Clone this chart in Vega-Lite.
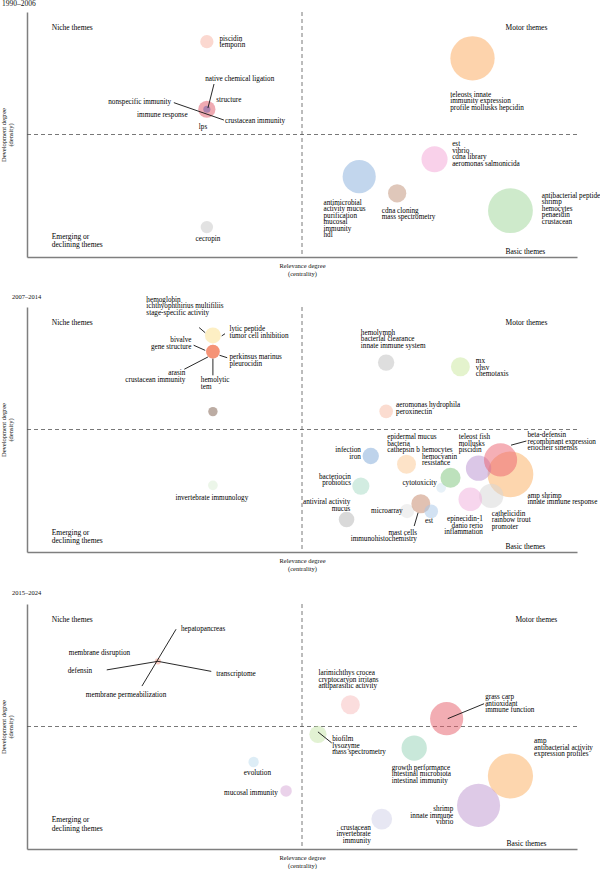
{
  "$schema": "https://vega.github.io/schema/vega-lite/v6.json",
  "padding": 0,
  "spacing": 17,
  "config": {
    "view": {"stroke": null},
    "font": "Liberation Serif",
    "axis": {"domainColor": "#7f7f7f", "domainWidth": 1.5, "ticks": false, "labels": false, "grid": false, "titleFont": "Liberation Serif", "titleFontSize": 6.5, "titleFontWeight": "normal", "titleColor": "#111"},
    "axisX": {"titleLineHeight": 8, "titlePadding": 5},
    "axisY": {"titleLineHeight": 7, "titlePadding": 14},
    "title": {"anchor": "start", "frame": "bounds", "font": "Liberation Serif", "fontSize": 6.5, "fontWeight": "normal", "color": "#111", "offset": 4}
  },
  "resolve": {"scale": {"color": "independent"}},
  "datasets": {
    "bubbles": [
      {"panel": 1, "theme": "teleosts innate", "x": 81.0, "y": 81.1, "freq": 625},
      {"panel": 1, "theme": "antimicrobial", "x": 60.4, "y": 32.8, "freq": 350},
      {"panel": 1, "theme": "cdna cloning", "x": 67.3, "y": 26.0, "freq": 106},
      {"panel": 1, "theme": "est", "x": 74.1, "y": 39.9, "freq": 216},
      {"panel": 1, "theme": "antibacterial peptide", "x": 87.9, "y": 18.9, "freq": 640},
      {"panel": 1, "theme": "piscidin", "x": 32.7, "y": 87.9, "freq": 56},
      {"panel": 1, "theme": "structure", "x": 32.7, "y": 60.3, "freq": 94},
      {"panel": 1, "theme": "lps", "x": 32.7, "y": 60.3, "freq": 16},
      {"panel": 1, "theme": "cecropin", "x": 32.7, "y": 12.2, "freq": 49},
      {"panel": 2, "theme": "hemoglobin", "x": 33.8, "y": 88.4, "freq": 81},
      {"panel": 2, "theme": "perkinsus marinus", "x": 33.8, "y": 81.8, "freq": 59},
      {"panel": 2, "theme": "arasin", "x": 33.8, "y": 81.8, "freq": 59},
      {"panel": 2, "theme": "hemolytic", "x": 33.8, "y": 57.3, "freq": 28},
      {"panel": 2, "theme": "invertebrate immunology", "x": 33.8, "y": 27.2, "freq": 30},
      {"panel": 2, "theme": "hemolymph", "x": 65.3, "y": 77.3, "freq": 85},
      {"panel": 2, "theme": "mx", "x": 78.8, "y": 75.6, "freq": 114},
      {"panel": 2, "theme": "aeromonas hydrophila", "x": 65.3, "y": 57.4, "freq": 59},
      {"panel": 2, "theme": "infection", "x": 62.5, "y": 39.2, "freq": 85},
      {"panel": 2, "theme": "epidermal mucus", "x": 69.0, "y": 35.8, "freq": 114},
      {"panel": 2, "theme": "bacteriocin", "x": 60.7, "y": 26.9, "freq": 94},
      {"panel": 2, "theme": "antiviral activity", "x": 58.1, "y": 13.3, "freq": 77},
      {"panel": 2, "theme": "microarray", "x": 69.1, "y": 16.7, "freq": 64},
      {"panel": 2, "theme": "mast cells", "x": 71.6, "y": 19.7, "freq": 114},
      {"panel": 2, "theme": "est", "x": 73.5, "y": 16.6, "freq": 59},
      {"panel": 2, "theme": "cytotoxicity", "x": 75.3, "y": 26.2, "freq": 30},
      {"panel": 2, "theme": "hemocytes", "x": 77.0, "y": 30.3, "freq": 128},
      {"panel": 2, "theme": "amp shrimp", "x": 87.9, "y": 31.7, "freq": 666},
      {"panel": 2, "theme": "teleost fish", "x": 82.1, "y": 34.2, "freq": 204},
      {"panel": 2, "theme": "beta-defensin", "x": 86.1, "y": 37.6, "freq": 350},
      {"panel": 2, "theme": "cathelicidin", "x": 84.4, "y": 22.9, "freq": 188},
      {"panel": 2, "theme": "epinecidin-1", "x": 80.6, "y": 21.5, "freq": 177},
      {"panel": 3, "theme": "hepatopancreas", "x": 23.8, "y": 76.6, "freq": 12},
      {"panel": 3, "theme": "evolution", "x": 41.2, "y": 35.5, "freq": 34},
      {"panel": 3, "theme": "mucosal immunity", "x": 47.1, "y": 23.7, "freq": 42},
      {"panel": 3, "theme": "larimichthys crocea", "x": 58.8, "y": 58.9, "freq": 114},
      {"panel": 3, "theme": "biofilm", "x": 52.9, "y": 46.8, "freq": 94},
      {"panel": 3, "theme": "growth performance", "x": 70.4, "y": 41.2, "freq": 204},
      {"panel": 3, "theme": "grass carp", "x": 76.3, "y": 53.2, "freq": 350},
      {"panel": 3, "theme": "crustacean", "x": 64.5, "y": 12.2, "freq": 137},
      {"panel": 3, "theme": "amp", "x": 87.9, "y": 29.8, "freq": 650},
      {"panel": 3, "theme": "shrimp", "x": 82.1, "y": 17.8, "freq": 590}
    ],
    "labels": [
      {"panel": 1, "kind": "theme", "side": "left", "x": 76.96, "y": 66.2, "text": "teleosts innate\nimmunity expression\nprofile mollusks hepcidin"},
      {"panel": 1, "kind": "theme", "side": "left", "x": 77.3, "y": 46.0, "text": "est\nvibrio\ncdna library\naeromonas salmonicida"},
      {"panel": 1, "kind": "theme", "side": "left", "x": 53.9, "y": 22.2, "text": "antimicrobial\nactivity mucus\npurification\nmucosal\nimmunity\nhdl"},
      {"panel": 1, "kind": "theme", "side": "left", "x": 64.5, "y": 18.9, "text": "cdna cloning\nmass spectrometry"},
      {"panel": 1, "kind": "theme", "side": "left", "x": 93.6, "y": 24.9, "text": "antibacterial peptide\nshrimp\nhemocytes\npenaeidin\ncrustacean"},
      {"panel": 1, "kind": "theme", "side": "left", "x": 35.0, "y": 89.1, "text": "piscidin\ntemporin"},
      {"panel": 1, "kind": "theme", "side": "left", "x": 32.4, "y": 72.8, "text": "native chemical ligation"},
      {"panel": 1, "kind": "theme", "side": "left", "x": 34.4, "y": 64.2, "text": "structure"},
      {"panel": 1, "kind": "theme", "side": "right", "x": 26.2, "y": 63.1, "text": "nonspecific immunity"},
      {"panel": 1, "kind": "theme", "side": "right", "x": 29.2, "y": 57.8, "text": "immune response"},
      {"panel": 1, "kind": "theme", "side": "left", "x": 36.0, "y": 55.6, "text": "crustacean immunity"},
      {"panel": 1, "kind": "theme", "side": "center", "x": 32.0, "y": 52.9, "text": "lps"},
      {"panel": 1, "kind": "theme", "side": "center", "x": 32.9, "y": 7.5, "text": "cecropin"},
      {"panel": 1, "kind": "quadrant", "side": "left", "x": 4.5, "y": 93.6, "text": "Niche themes"},
      {"panel": 1, "kind": "quadrant", "side": "left", "x": 87.0, "y": 93.6, "text": "Motor themes"},
      {"panel": 1, "kind": "quadrant", "side": "left", "x": 4.5, "y": 8.2, "text": "Emerging or\ndeclining themes"},
      {"panel": 1, "kind": "quadrant", "side": "left", "x": 87.0, "y": 2.2, "text": "Basic themes"},
      {"panel": 2, "kind": "theme", "side": "left", "x": 21.7, "y": 102.9, "text": "hemoglobin\nichthyophthirius multifiliis\nstage-specific activity"},
      {"panel": 2, "kind": "theme", "side": "left", "x": 36.8, "y": 90.9, "text": "lytic peptide\ntumor cell inhibition"},
      {"panel": 2, "kind": "theme", "side": "right", "x": 29.9, "y": 86.5, "text": "bivalve\ngene structure"},
      {"panel": 2, "kind": "theme", "side": "left", "x": 36.8, "y": 79.5, "text": "perkinsus marinus\npleurocidin"},
      {"panel": 2, "kind": "theme", "side": "right", "x": 28.8, "y": 72.9, "text": "arasin\ncrustacean immunity"},
      {"panel": 2, "kind": "theme", "side": "left", "x": 31.6, "y": 70.2, "text": "hemolytic\ntem"},
      {"panel": 2, "kind": "theme", "side": "center", "x": 33.6, "y": 22.0, "text": "invertebrate immunology"},
      {"panel": 2, "kind": "theme", "side": "left", "x": 60.7, "y": 89.5, "text": "hemolymph\nbacterial clearance\ninnate immune system"},
      {"panel": 2, "kind": "theme", "side": "left", "x": 81.6, "y": 77.8, "text": "mx\nvhsv\nchemotaxis"},
      {"panel": 2, "kind": "theme", "side": "left", "x": 67.1, "y": 59.9, "text": "aeromonas hydrophila\nperoxinectin"},
      {"panel": 2, "kind": "theme", "side": "right", "x": 60.7, "y": 41.6, "text": "infection\niron"},
      {"panel": 2, "kind": "theme", "side": "left", "x": 65.5, "y": 46.9, "text": "epidermal mucus\nbacteria\ncathepsin b"},
      {"panel": 2, "kind": "theme", "side": "left", "x": 71.8, "y": 41.6, "text": "hemocytes\nhemocyanin\nresistance"},
      {"panel": 2, "kind": "theme", "side": "right", "x": 74.5, "y": 28.3, "text": "cytotoxicity"},
      {"panel": 2, "kind": "theme", "side": "right", "x": 58.9, "y": 30.7, "text": "bacteriocin\nprobiotics"},
      {"panel": 2, "kind": "theme", "side": "right", "x": 58.8, "y": 20.4, "text": "antiviral activity\nmucus"},
      {"panel": 2, "kind": "theme", "side": "right", "x": 68.3, "y": 16.9, "text": "microarray"},
      {"panel": 2, "kind": "theme", "side": "center", "x": 73.1, "y": 12.7, "text": "est"},
      {"panel": 2, "kind": "theme", "side": "right", "x": 70.9, "y": 7.9, "text": "mast cells\nimmunohistochemistry"},
      {"panel": 2, "kind": "theme", "side": "right", "x": 82.9, "y": 13.3, "text": "epinecidin-1\ndanio rerio\ninflammation"},
      {"panel": 2, "kind": "theme", "side": "left", "x": 78.5, "y": 46.9, "text": "teleost fish\nmollusks\npiscidin"},
      {"panel": 2, "kind": "theme", "side": "left", "x": 91.0, "y": 47.6, "text": "beta-defensin\nrecombinant expression\neriocheir sinensis"},
      {"panel": 2, "kind": "theme", "side": "left", "x": 91.0, "y": 22.9, "text": "amp shrimp\ninnate immune response"},
      {"panel": 2, "kind": "theme", "side": "left", "x": 84.5, "y": 15.6, "text": "cathelicidin\nrainbow trout\npromoter"},
      {"panel": 2, "kind": "quadrant", "side": "left", "x": 4.5, "y": 93.5, "text": "Niche themes"},
      {"panel": 2, "kind": "quadrant", "side": "left", "x": 87.0, "y": 93.5, "text": "Motor themes"},
      {"panel": 2, "kind": "quadrant", "side": "left", "x": 4.5, "y": 7.9, "text": "Emerging or\ndeclining themes"},
      {"panel": 2, "kind": "quadrant", "side": "left", "x": 87.0, "y": 2.0, "text": "Basic themes"},
      {"panel": 3, "kind": "theme", "side": "left", "x": 28.0, "y": 89.7, "text": "hepatopancreas"},
      {"panel": 3, "kind": "theme", "side": "left", "x": 7.6, "y": 79.9, "text": "membrane disruption"},
      {"panel": 3, "kind": "theme", "side": "left", "x": 7.4, "y": 72.5, "text": "defensin"},
      {"panel": 3, "kind": "theme", "side": "left", "x": 34.4, "y": 71.4, "text": "transcriptome"},
      {"panel": 3, "kind": "theme", "side": "left", "x": 10.7, "y": 63.0, "text": "membrane permeabilization"},
      {"panel": 3, "kind": "theme", "side": "center", "x": 41.9, "y": 30.9, "text": "evolution"},
      {"panel": 3, "kind": "theme", "side": "right", "x": 45.6, "y": 23.0, "text": "mucosal immunity"},
      {"panel": 3, "kind": "theme", "side": "left", "x": 53.0, "y": 71.8, "text": "larimichthys crocea\ncryptocaryon irritans\nantiparasitic activity"},
      {"panel": 3, "kind": "theme", "side": "left", "x": 83.3, "y": 62.0, "text": "grass carp\nantioxidant\nimmune function"},
      {"panel": 3, "kind": "theme", "side": "left", "x": 55.5, "y": 44.8, "text": "biofilm\nlysozyme\nmass spectrometry"},
      {"panel": 3, "kind": "theme", "side": "left", "x": 66.3, "y": 33.1, "text": "growth performance\nintestinal microbiota\nintestinal immunity"},
      {"panel": 3, "kind": "theme", "side": "left", "x": 92.2, "y": 44.0, "text": "amp\nantibacterial activity\nexpression profiles"},
      {"panel": 3, "kind": "theme", "side": "right", "x": 77.5, "y": 16.2, "text": "shrimp\ninnate immune\nvibrio"},
      {"panel": 3, "kind": "theme", "side": "right", "x": 62.5, "y": 8.6, "text": "crustacean\ninvertebrate\nimmunity"},
      {"panel": 3, "kind": "quadrant", "side": "left", "x": 4.5, "y": 93.3, "text": "Niche themes"},
      {"panel": 3, "kind": "quadrant", "side": "left", "x": 88.8, "y": 93.3, "text": "Motor themes"},
      {"panel": 3, "kind": "quadrant", "side": "left", "x": 4.5, "y": 11.7, "text": "Emerging or\ndeclining themes"},
      {"panel": 3, "kind": "quadrant", "side": "left", "x": 87.2, "y": 1.9, "text": "Basic themes"}
    ],
    "links": [
      {"panel": 1, "x": 34.0, "y": 70.6, "x2": 32.9, "y2": 60.8},
      {"panel": 1, "x": 26.7, "y": 63.0, "x2": 35.8, "y2": 55.9},
      {"panel": 2, "x": 31.3, "y": 91.6, "x2": 32.4, "y2": 89.5},
      {"panel": 2, "x": 35.4, "y": 88.2, "x2": 36.0, "y2": 89.1},
      {"panel": 2, "x": 30.3, "y": 84.4, "x2": 32.4, "y2": 82.3},
      {"panel": 2, "x": 35.0, "y": 80.3, "x2": 36.4, "y2": 79.3},
      {"panel": 2, "x": 28.6, "y": 74.6, "x2": 32.9, "y2": 79.6},
      {"panel": 2, "x": 33.8, "y": 78.9, "x2": 33.8, "y2": 72.1},
      {"panel": 2, "x": 70.4, "y": 10.6, "x2": 71.1, "y2": 16.0},
      {"panel": 2, "x": 88.0, "y": 43.6, "x2": 90.8, "y2": 45.3},
      {"panel": 3, "x": 27.1, "y": 89.7, "x2": 20.9, "y2": 66.5},
      {"panel": 3, "x": 14.5, "y": 73.1, "x2": 23.8, "y2": 76.6},
      {"panel": 3, "x": 23.8, "y": 76.6, "x2": 33.5, "y2": 72.5},
      {"panel": 3, "x": 76.5, "y": 53.2, "x2": 83.1, "y2": 59.3},
      {"panel": 3, "x": 52.9, "y": 47.8, "x2": 55.4, "y2": 43.3}
    ]
  },
  "vconcat": [
    {
      "title": {"text": "1990–2006", "fontSize": 7.5, "dx": 2},
      "width": 550, "height": 245,
      "layer": [
        {"data": {"values": [{}]}, "mark": {"type": "rule", "strokeDash": [4, 3], "color": "#555", "strokeWidth": 0.8},
         "encoding": {"y": {"datum": 50, "type": "quantitative", "scale": {"domain": [0, 100], "nice": false, "zero": false}, "axis": {"title": ["Development degree", "(density)"]}}}},
        {"data": {"values": [{}]}, "mark": {"type": "rule", "strokeDash": [4, 3], "color": "#555", "strokeWidth": 0.8},
         "encoding": {"x": {"datum": 50, "type": "quantitative", "scale": {"domain": [0, 100], "nice": false, "zero": false}, "axis": {"title": ["Relevance degree", "(centrality)"]}}}},
        {"data": {"name": "bubbles"}, "transform": [{"filter": "datum.panel == 1"}], "mark": {"type": "circle", "opacity": 0.5},
         "encoding": {
           "x": {"field": "x", "type": "quantitative", "scale": {"domain": [0, 100], "nice": false, "zero": false}, "axis": {"title": ["Relevance degree", "(centrality)"]}},
           "y": {"field": "y", "type": "quantitative", "scale": {"domain": [0, 100], "nice": false, "zero": false}, "axis": {"title": ["Development degree", "(density)"]}},
           "size": {"field": "freq", "type": "quantitative", "scale": {"domain": [0, 700], "range": [0, 2199]}, "legend": null},
           "color": {"field": "theme", "type": "nominal", "legend": null, "scale": {
             "domain": ["teleosts innate", "antimicrobial", "cdna cloning", "est", "antibacterial peptide", "piscidin", "structure", "lps", "cecropin"],
             "range": ["#fba85a", "#86addb", "#bf8f75", "#f3a3d6", "#9dd597", "#f7b1a1", "#e05565", "#6a5aa8", "#c6c6c6"]}}}},
        {"data": {"name": "links"}, "transform": [{"filter": "datum.panel == 1"}], "mark": {"type": "rule", "color": "#111", "strokeWidth": 0.9},
         "encoding": {
           "x": {"field": "x", "type": "quantitative", "scale": {"domain": [0, 100], "nice": false, "zero": false}, "axis": {"title": ["Relevance degree", "(centrality)"]}},
           "y": {"field": "y", "type": "quantitative", "scale": {"domain": [0, 100], "nice": false, "zero": false}, "axis": {"title": ["Development degree", "(density)"]}},
           "x2": {"field": "x2"}, "y2": {"field": "y2"}}},
        {"data": {"name": "labels"}, "transform": [{"filter": "datum.panel == 1 && datum.kind == 'theme' && datum.side == 'left'"}],
         "mark": {"type": "text", "align": "left", "baseline": "top", "dy": -4, "lineBreak": "\n", "lineHeight": 6.5, "fontSize": 7.2, "font": "Liberation Serif", "color": "#000"},
         "encoding": {
           "x": {"field": "x", "type": "quantitative", "scale": {"domain": [0, 100], "nice": false, "zero": false}, "axis": {"title": ["Relevance degree", "(centrality)"]}},
           "y": {"field": "y", "type": "quantitative", "scale": {"domain": [0, 100], "nice": false, "zero": false}, "axis": {"title": ["Development degree", "(density)"]}},
           "text": {"field": "text"}}},
        {"data": {"name": "labels"}, "transform": [{"filter": "datum.panel == 1 && datum.kind == 'theme' && datum.side == 'right'"}],
         "mark": {"type": "text", "align": "right", "baseline": "top", "dy": -4, "lineBreak": "\n", "lineHeight": 6.5, "fontSize": 7.2, "font": "Liberation Serif", "color": "#000"},
         "encoding": {
           "x": {"field": "x", "type": "quantitative", "scale": {"domain": [0, 100], "nice": false, "zero": false}, "axis": {"title": ["Relevance degree", "(centrality)"]}},
           "y": {"field": "y", "type": "quantitative", "scale": {"domain": [0, 100], "nice": false, "zero": false}, "axis": {"title": ["Development degree", "(density)"]}},
           "text": {"field": "text"}}},
        {"data": {"name": "labels"}, "transform": [{"filter": "datum.panel == 1 && datum.kind == 'theme' && datum.side == 'center'"}],
         "mark": {"type": "text", "align": "center", "baseline": "top", "dy": -4, "lineBreak": "\n", "lineHeight": 6.5, "fontSize": 7.2, "font": "Liberation Serif", "color": "#000"},
         "encoding": {
           "x": {"field": "x", "type": "quantitative", "scale": {"domain": [0, 100], "nice": false, "zero": false}, "axis": {"title": ["Relevance degree", "(centrality)"]}},
           "y": {"field": "y", "type": "quantitative", "scale": {"domain": [0, 100], "nice": false, "zero": false}, "axis": {"title": ["Development degree", "(density)"]}},
           "text": {"field": "text"}}},
        {"data": {"name": "labels"}, "transform": [{"filter": "datum.panel == 1 && datum.kind == 'quadrant'"}],
         "mark": {"type": "text", "align": "left", "baseline": "top", "dy": -4, "lineBreak": "\n", "lineHeight": 8.5, "fontSize": 7.5, "font": "Liberation Serif", "color": "#000"},
         "encoding": {
           "x": {"field": "x", "type": "quantitative", "scale": {"domain": [0, 100], "nice": false, "zero": false}, "axis": {"title": ["Relevance degree", "(centrality)"]}},
           "y": {"field": "y", "type": "quantitative", "scale": {"domain": [0, 100], "nice": false, "zero": false}, "axis": {"title": ["Development degree", "(density)"]}},
           "text": {"field": "text"}}}
      ]
    },
    {
      "title": {"text": "2007–2014", "dx": 12, "offset": -5},
      "width": 550, "height": 245,
      "layer": [
        {"data": {"values": [{}]}, "mark": {"type": "rule", "strokeDash": [4, 3], "color": "#555", "strokeWidth": 0.8},
         "encoding": {"y": {"datum": 50, "type": "quantitative", "scale": {"domain": [0, 100], "nice": false, "zero": false}, "axis": {"title": ["Development degree", "(density)"]}}}},
        {"data": {"values": [{}]}, "mark": {"type": "rule", "strokeDash": [4, 3], "color": "#555", "strokeWidth": 0.8},
         "encoding": {"x": {"datum": 50, "type": "quantitative", "scale": {"domain": [0, 100], "nice": false, "zero": false}, "axis": {"title": ["Relevance degree", "(centrality)"]}}}},
        {"data": {"name": "bubbles"}, "transform": [{"filter": "datum.panel == 2"}], "mark": {"type": "circle", "opacity": 0.5},
         "encoding": {
           "x": {"field": "x", "type": "quantitative", "scale": {"domain": [0, 100], "nice": false, "zero": false}, "axis": {"title": ["Relevance degree", "(centrality)"]}},
           "y": {"field": "y", "type": "quantitative", "scale": {"domain": [0, 100], "nice": false, "zero": false}, "axis": {"title": ["Development degree", "(density)"]}},
           "size": {"field": "freq", "type": "quantitative", "scale": {"domain": [0, 700], "range": [0, 2199]}, "legend": null},
           "color": {"field": "theme", "type": "nominal", "legend": null, "scale": {
             "domain": ["hemoglobin", "perkinsus marinus", "arasin", "hemolytic", "invertebrate immunology", "hemolymph", "mx", "aeromonas hydrophila", "infection", "epidermal mucus", "bacteriocin", "antiviral activity", "microarray", "mast cells", "est", "cytotoxicity", "hemocytes", "amp shrimp", "teleost fish", "beta-defensin", "cathelicidin", "epinecidin-1"],
             "range": ["#fce08a", "#f05a3c", "#f47a50", "#7a5a48", "#d9eed3", "#bdbdbd", "#c9e79c", "#f8b9a2", "#7ea8d8", "#fcc892", "#a5dac3", "#b3b3b3", "#e2e2e2", "#c48466", "#a6c6e8", "#cfe3f2", "#7cc47a", "#fbae5e", "#b78fd0", "#ec5f6e", "#d5d5d5", "#f0addb"]}}}},
        {"data": {"name": "links"}, "transform": [{"filter": "datum.panel == 2"}], "mark": {"type": "rule", "color": "#111", "strokeWidth": 0.9},
         "encoding": {
           "x": {"field": "x", "type": "quantitative", "scale": {"domain": [0, 100], "nice": false, "zero": false}, "axis": {"title": ["Relevance degree", "(centrality)"]}},
           "y": {"field": "y", "type": "quantitative", "scale": {"domain": [0, 100], "nice": false, "zero": false}, "axis": {"title": ["Development degree", "(density)"]}},
           "x2": {"field": "x2"}, "y2": {"field": "y2"}}},
        {"data": {"name": "labels"}, "transform": [{"filter": "datum.panel == 2 && datum.kind == 'theme' && datum.side == 'left'"}],
         "mark": {"type": "text", "align": "left", "baseline": "top", "dy": -4, "lineBreak": "\n", "lineHeight": 6.5, "fontSize": 7.2, "font": "Liberation Serif", "color": "#000"},
         "encoding": {
           "x": {"field": "x", "type": "quantitative", "scale": {"domain": [0, 100], "nice": false, "zero": false}, "axis": {"title": ["Relevance degree", "(centrality)"]}},
           "y": {"field": "y", "type": "quantitative", "scale": {"domain": [0, 100], "nice": false, "zero": false}, "axis": {"title": ["Development degree", "(density)"]}},
           "text": {"field": "text"}}},
        {"data": {"name": "labels"}, "transform": [{"filter": "datum.panel == 2 && datum.kind == 'theme' && datum.side == 'right'"}],
         "mark": {"type": "text", "align": "right", "baseline": "top", "dy": -4, "lineBreak": "\n", "lineHeight": 6.5, "fontSize": 7.2, "font": "Liberation Serif", "color": "#000"},
         "encoding": {
           "x": {"field": "x", "type": "quantitative", "scale": {"domain": [0, 100], "nice": false, "zero": false}, "axis": {"title": ["Relevance degree", "(centrality)"]}},
           "y": {"field": "y", "type": "quantitative", "scale": {"domain": [0, 100], "nice": false, "zero": false}, "axis": {"title": ["Development degree", "(density)"]}},
           "text": {"field": "text"}}},
        {"data": {"name": "labels"}, "transform": [{"filter": "datum.panel == 2 && datum.kind == 'theme' && datum.side == 'center'"}],
         "mark": {"type": "text", "align": "center", "baseline": "top", "dy": -4, "lineBreak": "\n", "lineHeight": 6.5, "fontSize": 7.2, "font": "Liberation Serif", "color": "#000"},
         "encoding": {
           "x": {"field": "x", "type": "quantitative", "scale": {"domain": [0, 100], "nice": false, "zero": false}, "axis": {"title": ["Relevance degree", "(centrality)"]}},
           "y": {"field": "y", "type": "quantitative", "scale": {"domain": [0, 100], "nice": false, "zero": false}, "axis": {"title": ["Development degree", "(density)"]}},
           "text": {"field": "text"}}},
        {"data": {"name": "labels"}, "transform": [{"filter": "datum.panel == 2 && datum.kind == 'quadrant'"}],
         "mark": {"type": "text", "align": "left", "baseline": "top", "dy": -4, "lineBreak": "\n", "lineHeight": 8.5, "fontSize": 7.5, "font": "Liberation Serif", "color": "#000"},
         "encoding": {
           "x": {"field": "x", "type": "quantitative", "scale": {"domain": [0, 100], "nice": false, "zero": false}, "axis": {"title": ["Relevance degree", "(centrality)"]}},
           "y": {"field": "y", "type": "quantitative", "scale": {"domain": [0, 100], "nice": false, "zero": false}, "axis": {"title": ["Development degree", "(density)"]}},
           "text": {"field": "text"}}}
      ]
    },
    {
      "title": {"text": "2015–2024", "dx": 12, "offset": 7.5},
      "width": 550, "height": 245,
      "layer": [
        {"data": {"values": [{}]}, "mark": {"type": "rule", "strokeDash": [4, 3], "color": "#555", "strokeWidth": 0.8},
         "encoding": {"y": {"datum": 50, "type": "quantitative", "scale": {"domain": [0, 100], "nice": false, "zero": false}, "axis": {"title": ["Development degree", "(density)"]}}}},
        {"data": {"values": [{}]}, "mark": {"type": "rule", "strokeDash": [4, 3], "color": "#555", "strokeWidth": 0.8},
         "encoding": {"x": {"datum": 50, "type": "quantitative", "scale": {"domain": [0, 100], "nice": false, "zero": false}, "axis": {"title": ["Relevance degree", "(centrality)"]}}}},
        {"data": {"name": "bubbles"}, "transform": [{"filter": "datum.panel == 3"}], "mark": {"type": "circle", "opacity": 0.5},
         "encoding": {
           "x": {"field": "x", "type": "quantitative", "scale": {"domain": [0, 100], "nice": false, "zero": false}, "axis": {"title": ["Relevance degree", "(centrality)"]}},
           "y": {"field": "y", "type": "quantitative", "scale": {"domain": [0, 100], "nice": false, "zero": false}, "axis": {"title": ["Development degree", "(density)"]}},
           "size": {"field": "freq", "type": "quantitative", "scale": {"domain": [0, 700], "range": [0, 2199]}, "legend": null},
           "color": {"field": "theme", "type": "nominal", "legend": null, "scale": {
             "domain": ["hepatopancreas", "evolution", "mucosal immunity", "larimichthys crocea", "biofilm", "growth performance", "grass carp", "crustacean", "amp", "shrimp"],
             "range": ["#f39a88", "#bcdcee", "#d5a5d5", "#f8bcbc", "#c6e6a8", "#94d2b6", "#e65c68", "#cfcfe8", "#fbae5e", "#bd95d0"]}}}},
        {"data": {"name": "links"}, "transform": [{"filter": "datum.panel == 3"}], "mark": {"type": "rule", "color": "#111", "strokeWidth": 0.9},
         "encoding": {
           "x": {"field": "x", "type": "quantitative", "scale": {"domain": [0, 100], "nice": false, "zero": false}, "axis": {"title": ["Relevance degree", "(centrality)"]}},
           "y": {"field": "y", "type": "quantitative", "scale": {"domain": [0, 100], "nice": false, "zero": false}, "axis": {"title": ["Development degree", "(density)"]}},
           "x2": {"field": "x2"}, "y2": {"field": "y2"}}},
        {"data": {"name": "labels"}, "transform": [{"filter": "datum.panel == 3 && datum.kind == 'theme' && datum.side == 'left'"}],
         "mark": {"type": "text", "align": "left", "baseline": "top", "dy": -4, "lineBreak": "\n", "lineHeight": 6.5, "fontSize": 7.2, "font": "Liberation Serif", "color": "#000"},
         "encoding": {
           "x": {"field": "x", "type": "quantitative", "scale": {"domain": [0, 100], "nice": false, "zero": false}, "axis": {"title": ["Relevance degree", "(centrality)"]}},
           "y": {"field": "y", "type": "quantitative", "scale": {"domain": [0, 100], "nice": false, "zero": false}, "axis": {"title": ["Development degree", "(density)"]}},
           "text": {"field": "text"}}},
        {"data": {"name": "labels"}, "transform": [{"filter": "datum.panel == 3 && datum.kind == 'theme' && datum.side == 'right'"}],
         "mark": {"type": "text", "align": "right", "baseline": "top", "dy": -4, "lineBreak": "\n", "lineHeight": 6.5, "fontSize": 7.2, "font": "Liberation Serif", "color": "#000"},
         "encoding": {
           "x": {"field": "x", "type": "quantitative", "scale": {"domain": [0, 100], "nice": false, "zero": false}, "axis": {"title": ["Relevance degree", "(centrality)"]}},
           "y": {"field": "y", "type": "quantitative", "scale": {"domain": [0, 100], "nice": false, "zero": false}, "axis": {"title": ["Development degree", "(density)"]}},
           "text": {"field": "text"}}},
        {"data": {"name": "labels"}, "transform": [{"filter": "datum.panel == 3 && datum.kind == 'theme' && datum.side == 'center'"}],
         "mark": {"type": "text", "align": "center", "baseline": "top", "dy": -4, "lineBreak": "\n", "lineHeight": 6.5, "fontSize": 7.2, "font": "Liberation Serif", "color": "#000"},
         "encoding": {
           "x": {"field": "x", "type": "quantitative", "scale": {"domain": [0, 100], "nice": false, "zero": false}, "axis": {"title": ["Relevance degree", "(centrality)"]}},
           "y": {"field": "y", "type": "quantitative", "scale": {"domain": [0, 100], "nice": false, "zero": false}, "axis": {"title": ["Development degree", "(density)"]}},
           "text": {"field": "text"}}},
        {"data": {"name": "labels"}, "transform": [{"filter": "datum.panel == 3 && datum.kind == 'quadrant'"}],
         "mark": {"type": "text", "align": "left", "baseline": "top", "dy": -4, "lineBreak": "\n", "lineHeight": 9, "fontSize": 7.5, "font": "Liberation Serif", "color": "#000"},
         "encoding": {
           "x": {"field": "x", "type": "quantitative", "scale": {"domain": [0, 100], "nice": false, "zero": false}, "axis": {"title": ["Relevance degree", "(centrality)"]}},
           "y": {"field": "y", "type": "quantitative", "scale": {"domain": [0, 100], "nice": false, "zero": false}, "axis": {"title": ["Development degree", "(density)"]}},
           "text": {"field": "text"}}}
      ]
    }
  ]
}
